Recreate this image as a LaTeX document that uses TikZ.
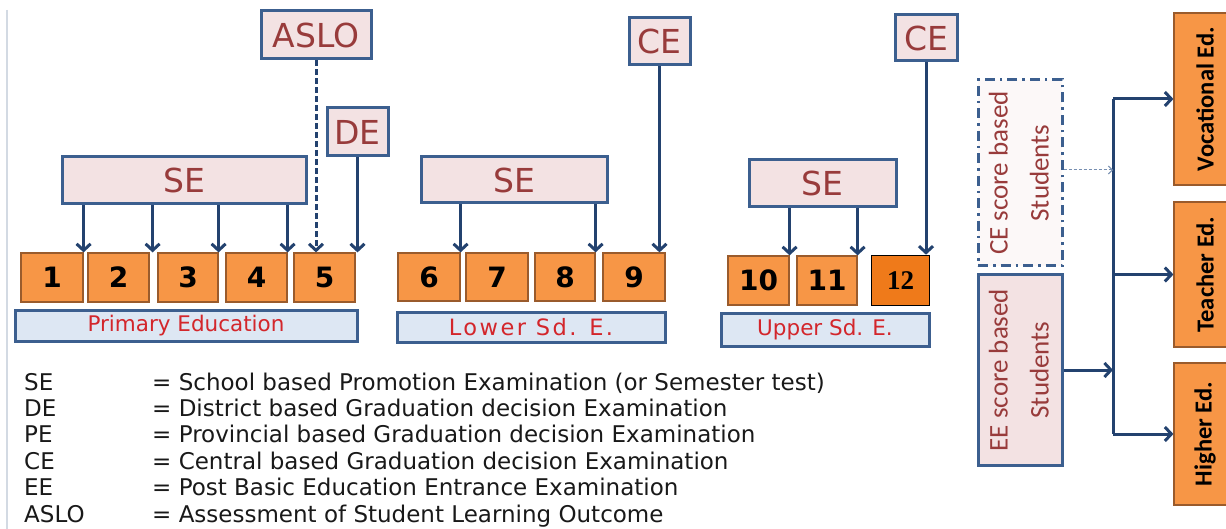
\documentclass[tikz,border=0pt]{standalone}
\usepackage{fontspec}
\usepackage{graphicx}
\usetikzlibrary{arrows.meta}
\setmainfont{DejaVu Sans}
\newfontfamily\serifnum{Liberation Serif}
\newfontfamily\calfont{Carlito}
\newfontfamily\widefont[LetterSpace=11]{DejaVu Sans}

\definecolor{edge}{HTML}{3C5F8F}
\definecolor{pinkf}{HTML}{F3E2E3}
\definecolor{bluef}{HTML}{DDE7F3}
\definecolor{darkred}{HTML}{983B3B}
\definecolor{redtxt}{HTML}{D3262B}
\definecolor{orng}{HTML}{F79646}
\definecolor{orngdeep}{HTML}{EF7A1A}
\definecolor{orngedge}{HTML}{9A5B2C}
\definecolor{navy}{HTML}{23426F}
\definecolor{frame}{HTML}{D3DAE3}

\tikzset{
  exambox/.style={draw=edge, line width=3pt, fill=pinkf, text=darkred,
    font=\fontsize{33}{36}\selectfont, inner sep=0pt},
  stagebox/.style={draw=edge, line width=3pt, fill=bluef, text=redtxt,
    font=\fontsize{21.5}{25}\selectfont, inner sep=0pt},
  gradebox/.style={draw=orngedge, line width=1.2pt, fill=orng,
    font=\fontsize{28}{30}\selectfont\bfseries, inner sep=0pt},
  lastgrade/.style={draw=black, line width=1.6pt, fill=orngdeep,
    font=\fontsize{27}{28}\selectfont\serifnum\bfseries, inner sep=0pt},
  studbox/.style={line width=3pt, text=darkred, inner sep=0pt,
    font=\fontsize{27}{41}\selectfont\calfont},
  pathbox/.style={draw=orngedge, line width=1.2pt, fill=orng, inner sep=0pt,
    font=\fontsize{24.5}{28}\selectfont\calfont\bfseries},
  arr/.style={navy, line width=3pt, -{Straight Barb[length=6.5pt,width=14pt]}},
  trunkline/.style={navy, line width=3pt},
  legtext/.style={anchor=base west, inner sep=0pt, font=\fontsize{23}{26}\selectfont, text=black!90}
}

\begin{document}
\begin{tikzpicture}[x=1pt,y=-1pt]
\useasboundingbox (0,0) rectangle (1226,529);
\fill[white] (0,0) rectangle (1226,529);
\draw[frame, line width=1.2pt] (7,10) -- (7,529);

% ---------- Primary education ----------
\node[exambox, minimum width=110pt, minimum height=48pt] (aslo) at (316,35) {ASLO};
\node[exambox, minimum width=61pt, minimum height=48pt] (de) at (357.5,132) {DE};
\node[exambox, minimum width=244pt, minimum height=47pt] (se1) at (184,180.5) {SE};

\node[gradebox, minimum width=62pt, minimum height=49pt] (g1) at (52,277.5) {1};
\node[gradebox, minimum width=61pt, minimum height=49pt] (g2) at (118.5,277.5) {2};
\node[gradebox, minimum width=60pt, minimum height=49pt] (g3) at (188,277.5) {3};
\node[gradebox, minimum width=61pt, minimum height=49pt] (g4) at (256.5,277.5) {4};
\node[gradebox, minimum width=61pt, minimum height=49pt] (g5) at (324.5,277.5) {5};

\node[stagebox, minimum width=342pt, minimum height=30pt] (prim) at (186,326) {Primary Education};

\draw[arr] (g1.north east |- se1.south) -- (g1.north east);
\draw[arr] ([xshift=3pt]g2.north east |- se1.south) -- ([xshift=3pt]g2.north east);
\draw[arr] (g3.north east |- se1.south) -- (g3.north east);
\draw[arr] (g4.north east |- se1.south) -- (g4.north east);
\draw[arr, dash pattern=on 6pt off 3pt] (aslo.south) -- (aslo.south |- g5.north);
\draw[arr] (de.south) -- (de.south |- g5.north);

% ---------- Lower secondary ----------
\node[exambox, minimum width=61pt, minimum height=47pt] (ce1) at (659.5,41.5) {CE};
\node[exambox, minimum width=186pt, minimum height=46pt] (se2) at (514,180) {SE};

\node[gradebox, minimum width=62pt, minimum height=48pt] (g6) at (429,277) {6};
\node[gradebox, minimum width=62pt, minimum height=48pt] (g7) at (497,277) {7};
\node[gradebox, minimum width=60pt, minimum height=48pt] (g8) at (565,277) {8};
\node[gradebox, minimum width=62pt, minimum height=48pt] (g9) at (634,277) {9};

\node[stagebox, minimum width=268pt, minimum height=29pt, font=\fontsize{22.5}{25}\selectfont\widefont] (lower) at (531,327.5) {Lower Sd. E.};

\draw[arr] (g6.north east |- se2.south) -- (g6.north east);
\draw[arr] (g8.north east |- se2.south) -- (g8.north east);
\draw[arr] (ce1.south) -- (ce1.south |- g9.north);

% ---------- Upper secondary ----------
\node[exambox, minimum width=62pt, minimum height=46pt] (ce2) at (926,38) {CE};
\node[exambox, minimum width=147pt, minimum height=47pt] (se3) at (822.5,183.5) {SE};

\node[gradebox, minimum width=61pt, minimum height=49pt] (g10) at (758.5,280.5) {10};
\node[gradebox, minimum width=60pt, minimum height=49pt] (g11) at (827,280.5) {11};
\node[lastgrade, minimum width=58pt, minimum height=50pt] (g12) at (900.5,280.5) {12};

\node[stagebox, minimum width=208pt, minimum height=32pt] (upper) at (825,330) {Upper Sd. E.};

\draw[arr] (g10.north east |- se3.south) -- (g10.north east);
\draw[arr] (g11.north east |- se3.south) -- (g11.north east);
\draw[arr] (ce2.south) -- (ce2.south |- g12.north);

% ---------- Post basic education ----------
\node[studbox, draw=edge, dash pattern=on 10pt off 5pt on 2.5pt off 5pt, fill=pinkf!25,
      minimum width=84pt, minimum height=186pt] (ces) at (1020,173)
  {\rotatebox{90}{\begin{tabular}{@{}c@{}}CE score based\\Students\end{tabular}}};
\node[studbox, draw=edge, fill=pinkf,
      minimum width=84pt, minimum height=190pt] (ees) at (1020,370)
  {\rotatebox{90}{\begin{tabular}{@{}c@{}}EE score based\\Students\end{tabular}}};

\node[pathbox, minimum width=62pt, minimum height=172pt] (voc) at (1205,99) {\rotatebox{90}{Vocational Ed.}};
\node[pathbox, minimum width=62pt, minimum height=145pt] (tea) at (1205,274.5) {\rotatebox{90}{Teacher Ed.}};
\node[pathbox, minimum width=62pt, minimum height=142pt] (hig) at (1205,434) {\rotatebox{90}{Higher Ed.}};

\coordinate (trunk) at (1113,0);
\draw[trunkline] (trunk |- voc.west) -- (trunk |- hig.west);
\draw[arr] (trunk |- voc.west) -- (voc.west);
\draw[arr] (trunk |- tea.west) -- (tea.west);
\draw[arr] (trunk |- hig.west) -- (hig.west);
\draw[arr] (ees.east) -- (trunk |- ees.east);
\draw[edge!70, line width=1pt, dash pattern=on 3pt off 2pt,
      -{Straight Barb[length=4pt,width=8pt]}] (ces.east |- 0,170) -- (trunk |- 0,170);

% ---------- Legend ----------
\foreach \i/\ab/\tx in {
  0/SE/School based Promotion Examination (or Semester test),
  1/DE/District based Graduation decision Examination,
  2/PE/Provincial based Graduation decision Examination,
  3/CE/Central based Graduation decision Examination,
  4/EE/Post Basic Education Entrance Examination,
  5/ASLO/Assessment of Student Learning Outcome}{
  \node[legtext] (abbr\i) at (24,390+26.4*\i) {\ab};
  \node[legtext] (defn\i) at (152,390+26.4*\i) {= \tx};
}
\end{tikzpicture}
\end{document}
